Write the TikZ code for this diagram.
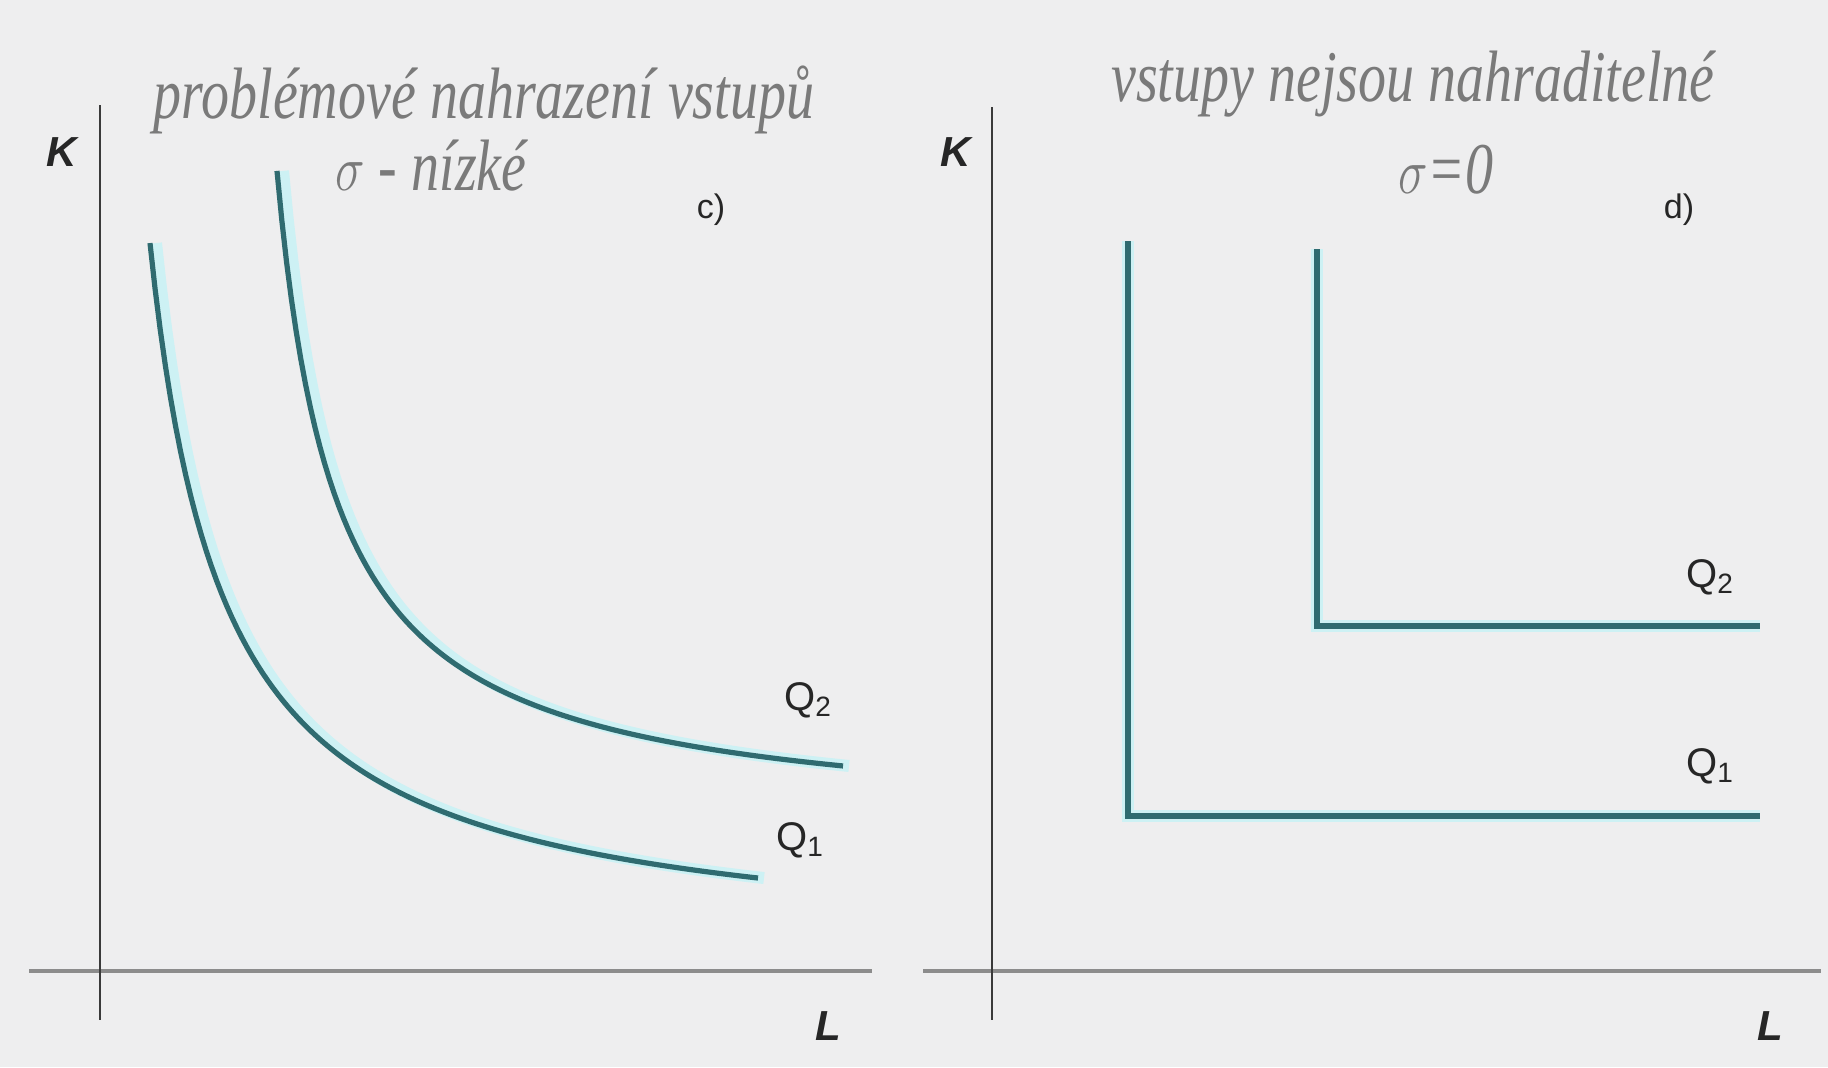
\documentclass[tikz,border=0pt]{standalone}
\usepackage{fontspec}
\setmainfont{Liberation Sans}
\newfontfamily\handfont{Liberation Serif}
\definecolor{paper}{HTML}{EEEEEF}
\definecolor{teal0}{HTML}{2F6B70}
\definecolor{halo}{HTML}{CDF1F4}
\definecolor{axisv}{HTML}{3A3A3A}
\definecolor{axish}{HTML}{8C8C8C}
\definecolor{pencil}{HTML}{7A7A7A}
\begin{document}
\begin{tikzpicture}[x=0.5pt,y=-0.5pt,
  isoq/.style={line width=2.6pt,color=teal0,line cap=butt,line join=miter},
  isohalo/.style={line width=6pt,color=halo},
  vaxis/.style={line width=1pt,color=axisv},
  haxis/.style={line width=2.4pt,color=axish},
  axlabel/.style={font=\fontsize{21}{24}\selectfont\bfseries\itshape,text=black!85},
  panlabel/.style={font=\fontsize{17}{20}\selectfont,text=black!85},
  qlabel/.style={font=\fontsize{20}{22}\selectfont,text=black!85},
  hand/.style={font=\fontsize{28}{32}\selectfont\handfont\itshape,text=pencil,yscale=1.3,transform shape}]
\fill[paper] (0,0) rectangle (1828,1067);
\useasboundingbox (0,0) rectangle (1828,1067);

% ---------- panel c) ----------
\coordinate (cLa) at (29,971);
\coordinate (cLb) at (872,971);
\coordinate (cKa) at (100,105);
\coordinate (cKb) at (100,1020);
\draw[haxis] (cLa) -- (cLb);
\draw[vaxis] (cKa) -- (cKb);
\node[axlabel] (cK) at (62,152) {K};
\node[axlabel] (cL) at (828,1026) {L};
\node[panlabel] (cc) at (711,210) {c)};

\draw[isohalo,xshift=3pt] plot[domain=150:758,samples=120] (\x,{955.2-526.27/((\x-76.1)/100)});
\draw[isohalo,xshift=3pt] plot[domain=277:843,samples=120] (\x,{828.4-390.52/((\x-217.6)/100)});
\draw[isoq] plot[domain=150:758,samples=120] (\x,{955.2-526.27/((\x-76.1)/100)});
\draw[isoq] plot[domain=277:843,samples=120] (\x,{828.4-390.52/((\x-217.6)/100)});
\node[qlabel] (cq2) at (808,700) {Q\textsubscript{2}};
\node[qlabel] (cq1) at (800,840) {Q\textsubscript{1}};

\node[hand] (h1) at (484,100) {problémové nahrazení vstupů};
\node[hand] (h2) at (431,166) {$\sigma$ - nízké};

% ---------- panel d) ----------
\coordinate (dLa) at (923,971);
\coordinate (dLb) at (1821,971);
\coordinate (dKa) at (992,107);
\coordinate (dKb) at (992,1020);
\draw[haxis] (dLa) -- (dLb);
\draw[vaxis] (dKa) -- (dKb);
\node[axlabel] (dK) at (956,152) {K};
\node[axlabel] (dL) at (1770,1026) {L};
\node[panlabel] (dd) at (1679,210) {d)};

\coordinate (a1) at (1128,241);
\coordinate (b1) at (1128,816);
\coordinate (c1) at (1760,816);
\coordinate (a2) at (1317,249);
\coordinate (b2) at (1317,626);
\coordinate (c2) at (1760,626);
\draw[isohalo,xshift=3pt,yshift=-3pt] (a1) -- (b1) -- (c1);
\draw[isohalo,xshift=3pt,yshift=-3pt] (a2) -- (b2) -- (c2);
\draw[isoq] (a1) -- (b1) -- (c1);
\draw[isoq] (a2) -- (b2) -- (c2);
\node[qlabel] (dq2) at (1710,577) {Q\textsubscript{2}};
\node[qlabel] (dq1) at (1710,766) {Q\textsubscript{1}};

\node[hand] (h3) at (1413,84) {vstupy nejsou nahraditelné};
\node[hand] (h4) at (1446,170) {$\sigma$=0};
\end{tikzpicture}
\end{document}
